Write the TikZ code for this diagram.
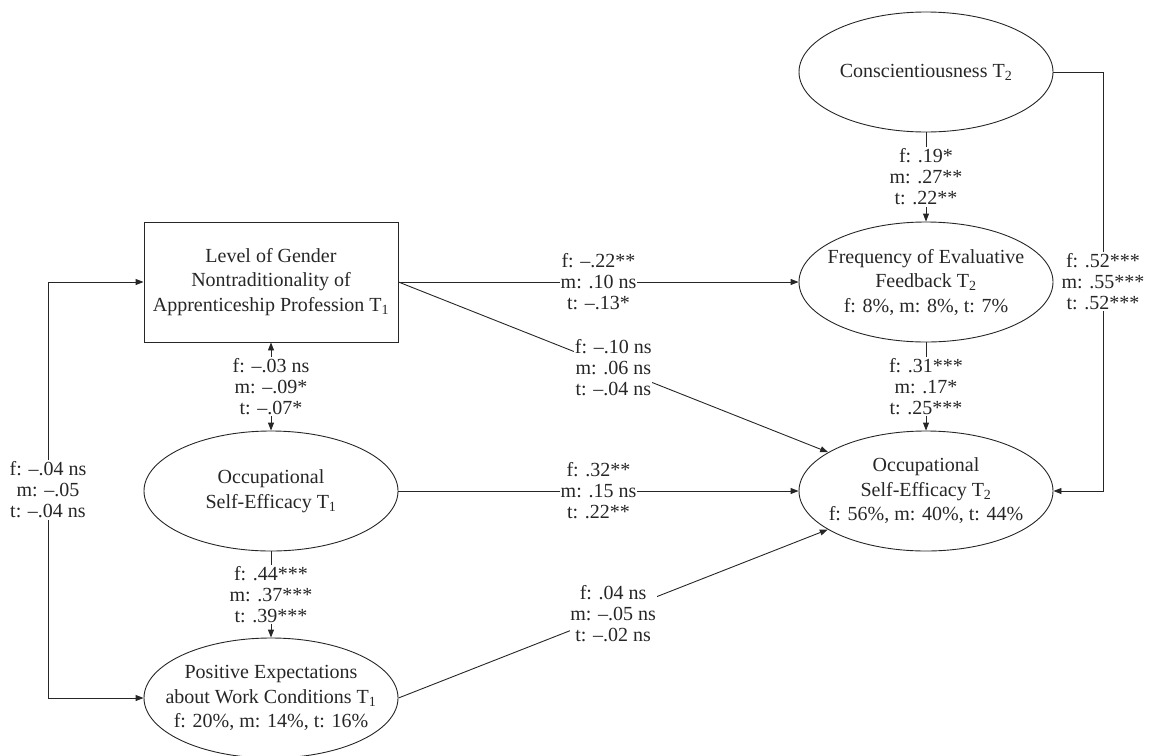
\documentclass[tikz,border=0pt]{standalone}
\usepackage{fontspec}
\setmainfont{Liberation Serif}
\usetikzlibrary{shapes.geometric,arrows.meta}
\begin{document}
\begin{tikzpicture}[x=1pt,y=-1pt, line width=0.9pt, color=black!85,
  txt/.style={align=center, inner sep=0pt, font=\fontsize{20}{24.5}\selectfont},
  ell/.style={ellipse, draw, minimum width=254pt, minimum height=120pt, inner sep=0pt, label={[txt]center:{#1}}},
  rbox/.style={rectangle, draw, minimum width=254pt, minimum height=120pt, inner sep=0pt, label={[txt]center:{#1}}},
  lbl/.style={fill=white, inner xsep=0.8pt, inner ysep=1.5pt, align=center, font=\fontsize{20}{21}\selectfont},
  arr/.style={-{Triangle[length=8pt,width=6pt]}},
  dblarr/.style={{Triangle[length=8pt,width=6pt]}-{Triangle[length=8pt,width=6pt]}}
]
\useasboundingbox (0,0) rectangle (1150,755);

\node[rbox={Level of Gender\\Nontraditionality of\\Apprenticeship Profession T\textsubscript{1}}] (box) at (271,282) {};
\node[ell={Conscientiousness T\textsubscript{2}}] (cons) at (926,72) {};
\node[ell={Frequency of Evaluative\\Feedback T\textsubscript{2}\\f: 8\%, m: 8\%, t: 7\%}] (freq) at (926,282) {};
\node[ell={Occupational\\Self-Efficacy T\textsubscript{2}\\f: 56\%, m: 40\%, t: 44\%}] (ose2) at (926,491) {};
\node[ell={Occupational\\Self-Efficacy T\textsubscript{1}}] (ose1) at (271,491) {};
\node[ell={Positive Expectations\\about Work Conditions T\textsubscript{1}\\f: 20\%, m: 14\%, t: 16\%}] (pos) at (271,698) {};

\coordinate (rc1) at (1103,72);
\coordinate (rc2) at (1103,491);
\coordinate (lc1) at (48,282);
\coordinate (lc2) at (48,698);

\draw[arr] (box.east) -- node[lbl]{f: --.22**\\m: .10 ns\\t: --.13*} (freq.west);
\draw[arr] (box.east) -- node[lbl]{f: --.10 ns\\m: .06 ns\\t: --.04 ns} (ose2);
\draw[arr] (ose1) -- node[lbl]{f: .32**\\m: .15 ns\\t: .22**} (ose2);
\draw[arr] (pos.east) -- node[lbl]{f: .04 ns\\m: --.05 ns\\t: --.02 ns} (ose2);
\draw[arr] (cons) -- node[lbl]{f: .19*\\m: .27**\\t: .22**} (freq);
\draw[arr] (freq) -- node[lbl]{f: .31***\\m: .17*\\t: .25***} (ose2);
\draw[dblarr] (box) -- node[lbl]{f: --.03 ns\\m: --.09*\\t: --.07*} (ose1);
\draw[arr] (ose1) -- node[lbl]{f: .44***\\m: .37***\\t: .39***} (pos);
\draw[arr] (cons.east) -- (rc1) -- node[lbl]{f: .52***\\m: .55***\\t: .52***} (rc2) -- (ose2.east);
\draw[dblarr] (box.west) -- (lc1) -- node[lbl]{f: --.04 ns\\m: --.05\\t: --.04 ns} (lc2) -- (pos.west);
\end{tikzpicture}
\end{document}
